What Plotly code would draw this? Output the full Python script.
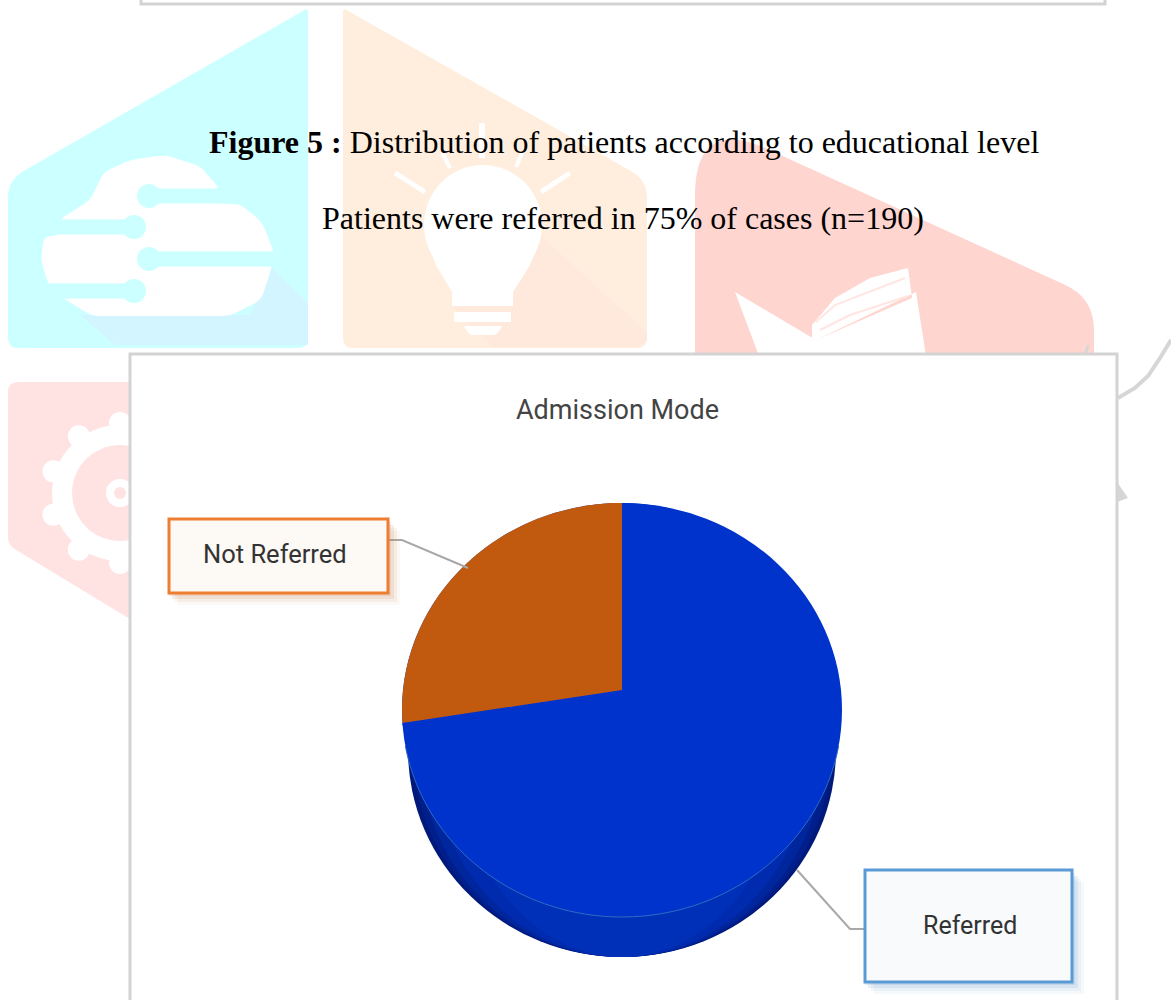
import numpy as np
import plotly.graph_objects as go

# ---- data ----
categories = ["Referred", "Not Referred"]
shares = [74, 26]
slice_colors = ["#0033CC", "#C1590F"]
chart_title = "Admission Mode"
caption_bold = "Figure 5 :"
caption_rest = " Distribution of patients according to educational level"
caption_second = "Patients were referred in 75% of cases (n=190)"

W, H = 1171, 1000
CX, CY, RX, RY = 622, 710, 220, 207
APEX_Y = 690
DEPTH = 40


def px(x):
    return x / W


def py(y):
    return 1 - y / H


def pts(p):
    return f"{px(p[0]):.5f} {py(p[1]):.5f}"


def poly(points):
    return "M " + " L ".join(pts(p) for p in points) + " Z"


def rounded(points, r):
    n = len(points)
    parts = []
    for i in range(n):
        p0 = np.array(points[i - 1], float)
        p1 = np.array(points[i], float)
        p2 = np.array(points[(i + 1) % n], float)
        rr = r[i] if isinstance(r, (list, tuple)) else r
        rr = min(rr, np.linalg.norm(p0 - p1) / 2, np.linalg.norm(p2 - p1) / 2)
        a = p1 + (p0 - p1) / np.linalg.norm(p0 - p1) * rr
        b = p1 + (p2 - p1) / np.linalg.norm(p2 - p1) * rr
        parts.append(("M " if i == 0 else "L ") + pts(a) + " Q " + pts(p1) + " " + pts(b))
    return " ".join(parts) + " Z"


shapes = []


def add_path(path, color, layer="below", opacity=1):
    shapes.append(dict(type="path", xref="paper", yref="paper", path=path, fillcolor=color,
                       line=dict(width=0), layer=layer, opacity=opacity))


def add_line(points, color, width, layer="below"):
    path = "M " + " L ".join(pts(p) for p in points)
    shapes.append(dict(type="path", xref="paper", yref="paper", path=path,
                       line=dict(color=color, width=width), layer=layer))


def add_rect(x0, y0, x1, y1, color, line=None, lw=0, layer="below", opacity=1):
    shapes.append(dict(type="rect", xref="paper", yref="paper", x0=px(x0), x1=px(x1), y0=py(y0), y1=py(y1),
                       fillcolor=color, line=dict(color=line or color, width=lw), layer=layer, opacity=opacity))


def add_ell(cx, cy, rx, ry, color, layer="below", opacity=1):
    shapes.append(dict(type="circle", xref="paper", yref="paper", x0=px(cx - rx), x1=px(cx + rx),
                       y0=py(cy - ry), y1=py(cy + ry), fillcolor=color, line=dict(width=0),
                       layer=layer, opacity=opacity))


# ---- watermark: cloud tile ----
CYAN = "#CCFFFF"
add_path(rounded([(308, 8), (308, 348), (8, 348), (8, 180)], [4, 10, 10, 18]), CYAN)
add_path(poly([(272, 268), (308, 303), (308, 345), (115, 345), (80, 315), (250, 315)]), "#D2F5FF")
add_path(rounded([(59, 220), (90, 200), (104, 172), (130, 160), (165, 155), (200, 166), (219, 188),
                  (219, 204), (240, 204), (262, 222), (274, 252), (271, 270), (261, 300), (230, 316), (92, 316),
                  (63, 298), (48, 284), (41, 260), (44, 236), (59, 236)], 7), "#FFFFFF")
for cx_, cy_, x0_, x1_ in [(149, 196, 149, 225), (134, 227, 40, 134), (149, 259, 149, 278), (134, 291, 40, 134)]:
    add_rect(x0_, cy_ - 7.5, x1_, cy_ + 7.5, CYAN)
    add_ell(cx_, cy_, 12, 12, CYAN)

# ---- watermark: bulb tile ----
PEACH = "#FFEEDD"
add_path(rounded([(343, 8), (647, 180), (647, 348), (343, 348)], [4, 18, 10, 10]), PEACH)
add_path(poly([(540, 235), (647, 332), (647, 340), (638, 347), (492, 347), (452, 306)]), "#FFE8DC")
add_ell(483, 225, 59, 60, "#FFFFFF")
add_path(poly([(426, 240), (540, 240), (530, 265), (513, 292), (513, 306), (452, 306), (452, 292), (436, 265)]),
         "#FFFFFF")
add_rect(454, 312, 511, 322, "#FFFFFF")
add_path(rounded([(463, 326), (503, 326), (496, 335), (470, 335)], 3), "#FFFFFF")
for seg, w in [([(482, 123), (482, 158)], 6), ([(442, 152), (450, 168)], 4), ([(522, 153), (516, 167)], 4),
               ([(395, 173), (425, 192)], 5), ([(570, 173), (541, 192)], 5)]:
    add_line(seg, "#FFFFFF", w)

# ---- watermark: book tile ----
PINK = "#FFD5D0"
add_path(rounded([(695, 362), (695, 116), (1094, 298), (1094, 362)], [2, 80, 50, 2]), PINK)
add_path(poly([(735, 292), (816, 340), (912, 298), (908, 268), (870, 278), (835, 298), (812, 325), (812, 338),
               (816, 340), (916, 292), (926, 356), (759, 356)]), "#FFFFFF")
add_line([(816, 322), (835, 305), (905, 278)], "#FFE6E2", 2)
add_line([(820, 330), (850, 315), (908, 296)], "#FFE6E2", 2)

# ---- watermark: gear tile ----
ROSE = "#FFE3E3"
add_path(rounded([(8, 382), (135, 382), (135, 622), (8, 545)], [10, 1, 1, 8]), ROSE)
GX, GY = 120, 493
add_ell(GX, GY, 68, 68, "#FFFFFF")
for a in np.deg2rad(np.arange(0, 360, 36) + 18):
    add_ell(GX + 70 * np.cos(a), GY + 70 * np.sin(a), 11, 11, "#FFFFFF")
add_ell(GX, GY, 48, 48, ROSE)
add_ell(GX, GY, 14, 14, "#FFFFFF")
add_ell(GX, GY, 6, 6, ROSE)

# page furniture outside the panel
add_line([(1171, 340), (1160, 358), (1148, 376), (1135, 388), (1118, 398)], "#D6D6D6", 4)
add_line([(1088, 345), (1086, 353)], "#D6D6D6", 3)
add_path(poly([(1117, 482), (1128, 498), (1117, 502)]), "#D6D6D6")
add_rect(141, -10, 1105, 4, "#FFFFFF", "#D3D3D3", 3)

# ---- chart panel ----
add_rect(130, 354, 1117, 1010, "#FFFFFF", "#D3D3D3", 3)

# ---- pie depth (stepped shading standing in for the gradient) ----
for rx, col in [(214, "#00197A"), (209, "#001F8C"), (202, "#00269E"), (190, "#002BAE"), (165, "#0030B8")]:
    add_ell(CX, CY + DEPTH, rx, RY, col)

# elliptical under-face: the pie trace is a true circle, this widens it to the drawn ellipse
orange_angle = 2 * np.pi * shares[1] / sum(shares)
t = np.linspace(0, orange_angle, 60)
add_ell(CX, CY, RX, RY, slice_colors[0])
add_path(poly([(CX, CY)] + [(CX - RX * np.sin(a), CY - RY * np.cos(a)) for a in t]), slice_colors[1])

# apex correction above the pie: drawn pie's apex sits higher than the ellipse centre
end = (CX - RX * np.sin(orange_angle), CY - RY * np.cos(orange_angle))
add_path(poly([(CX, APEX_Y), end, (end[0], end[1] + 2.5), (CX, CY + 3)]), slice_colors[0], layer="above")

# rim highlight
t2 = np.linspace(np.deg2rad(100), np.deg2rad(260), 90)
add_line([(CX + RX * np.sin(a), CY - RY * np.cos(a)) for a in t2], "#2F6CC4", 1, layer="above")

# ---- label leaders and boxes ----
add_line([(388, 540), (402, 540), (468, 568)], "#A8A8A8", 2, layer="above")
add_line([(797, 870), (850, 929), (865, 929)], "#A8A8A8", 2, layer="above")

for (x0, y0, x1, y1, border, fill, shadow) in [
    (169, 519, 388, 593, "#ED7D31", "#FDF9F5", "#C98A5E"),
    (865, 870, 1072, 982, "#5B9BD5", "#F8FAFC", "#6C9CC8"),
]:
    for off, op in [(12, 0.06), (9, 0.09), (6, 0.14), (3, 0.18)]:
        add_rect(x0 + off - 3, y0 + off, x1 + off, y1 + off, shadow, layer="above", opacity=op)
    add_rect(x0, y0, x1, y1, fill, border, 3, layer="above")

# ---- pie ----
fig = go.Figure(go.Pie(
    labels=categories, values=shares, sort=False, direction="clockwise", rotation=0,
    marker=dict(colors=slice_colors, line=dict(width=0)),
    textinfo="none", hoverinfo="label+percent", showlegend=False,
    domain=dict(x=[px(CX - RY), px(CX + RY)], y=[py(CY + RY), py(CY - RY)]),
))


def note(text, x, y, size, color, family):
    return dict(text=text, x=px(x), y=py(y), xref="paper", yref="paper", xanchor="center", yanchor="middle",
                showarrow=False, font=dict(size=size, color=color, family=family))


SERIF = "Liberation Serif"
SANS = "Roboto"
annotations = [
    note(f"<b>{caption_bold}</b>{caption_rest}", 624, 142, 32, "#000000", SERIF),
    note(caption_second, 623, 218, 32, "#000000", SERIF),
    note(chart_title, 617, 410, 27, "#444444", SANS),
    note(categories[1], 275, 554, 25.5, "#333333", SANS),
    note(categories[0], 970, 925, 25, "#333333", SANS),
]

fig.update_layout(
    width=W, height=H, autosize=False, margin=dict(l=0, r=0, t=0, b=0),
    paper_bgcolor="#FFFFFF", plot_bgcolor="#FFFFFF", shapes=shapes, annotations=annotations,
)
fig.write_html("out.html", config=dict(displayModeBar=False),
               post_script="document.body.style.margin='0';document.documentElement.style.overflow='hidden';")
